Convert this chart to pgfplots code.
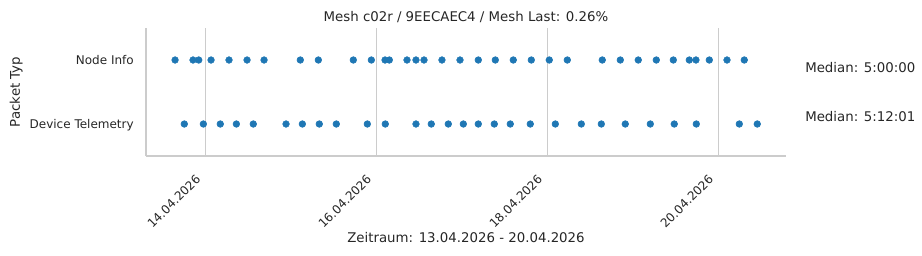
\documentclass[border=0pt]{standalone}
\usepackage{fontspec}
\setmainfont{DejaVu Sans}
\usepackage{pgfplots}
\pgfplotsset{compat=1.18}
\definecolor{dotblue}{HTML}{1F77B4}
\definecolor{gridgray}{HTML}{CCCCCC}
\definecolor{txt}{HTML}{262626}
\begin{document}
\begin{tikzpicture}
\useasboundingbox (-109.5pt,-74.25pt) rectangle (582pt,117pt);
\begin{axis}[
  at={(0pt,0pt)}, anchor=south west,
  scale only axis, width=480pt, height=96pt,
  xmin=13.306, xmax=20.792, ymin=-0.5, ymax=1.5,
  axis x line*=bottom, axis y line*=left,
  axis line style={-, draw=gridgray, line width=1pt},
  xtick={14,16,18,20},
  xticklabels={14.04.2026,16.04.2026,18.04.2026,20.04.2026},
  ytick={0,1},
  yticklabels={Device Telemetry,Node Info},
  major tick length=0pt,
  xmajorgrids, major grid style={draw=gridgray, line width=0.75pt},
  ticklabel style={font=\fontsize{9}{11}\selectfont, text=txt},
  xticklabel style={xshift=-5.3pt, yshift=-15.7pt, rotate=45, anchor=east, inner sep=0pt},
  yticklabel style={anchor=base east, inner sep=0pt, xshift=-9pt, yshift=-3.3pt},
  clip=false,
]
% Node Info (y = 1), x = day of April 2026
\addplot[only marks, mark=*, mark size=2.5pt, color=dotblue, mark options={draw=dotblue, fill=dotblue}] coordinates {
(13.646,1) (13.856,1) (13.923,1) (14.067,1) (14.277,1) (14.488,1) (14.687,1)
(15.111,1) (15.322,1) (15.731,1) (15.942,1) (16.102,1) (16.152,1) (16.359,1)
(16.464,1) (16.558,1) (16.768,1) (16.979,1) (17.193,1) (17.392,1) (17.602,1)
(17.813,1) (18.023,1) (18.234,1) (18.643,1) (18.854,1) (19.064,1) (19.275,1)
(19.474,1) (19.661,1) (19.739,1) (19.895,1) (20.102,1) (20.304,1)
};
% Device Telemetry (y = 0)
\addplot[only marks, mark=*, mark size=2.5pt, color=dotblue, mark options={draw=dotblue, fill=dotblue}] coordinates {
(13.754,0) (13.977,0) (14.175,0) (14.363,0) (14.561,0) (14.944,0) (15.135,0)
(15.333,0) (15.532,0) (15.895,0) (16.105,0) (16.464,0) (16.643,0) (16.842,0)
(17.018,0) (17.193,0) (17.380,0) (17.567,0) (17.801,0) (18.094,0) (18.398,0)
(18.632,0) (18.912,0) (19.205,0) (19.485,0) (19.743,0) (20.246,0) (20.456,0)
};
\node[anchor=base, inner sep=0pt, font=\fontsize{10}{12}\selectfont, text=txt] at ([yshift=5.25pt]rel axis cs:0.5,1) {Mesh c02r / 9EECAEC4 / Mesh Last: 0.26\%};
\node[anchor=base, inner sep=0pt, font=\fontsize{10}{12}\selectfont, text=txt] at ([yshift=-64.9pt]rel axis cs:0.5,0) {Zeitraum: 13.04.2026 - 20.04.2026};
\node[rotate=90, anchor=base, inner sep=0pt, font=\fontsize{10}{12}\selectfont, text=txt] at ([xshift=-94.5pt]rel axis cs:0,0.5) {Packet Typ};
\node[anchor=base west, inner sep=0pt, font=\fontsize{10}{12}\selectfont, text=txt] at (rel axis cs:1.0297,0.656) {Median: 5:00:00};
\node[anchor=base west, inner sep=0pt, font=\fontsize{10}{12}\selectfont, text=txt] at (rel axis cs:1.0297,0.266) {Median: 5:12:01};
\end{axis}
\end{tikzpicture}
\end{document}
